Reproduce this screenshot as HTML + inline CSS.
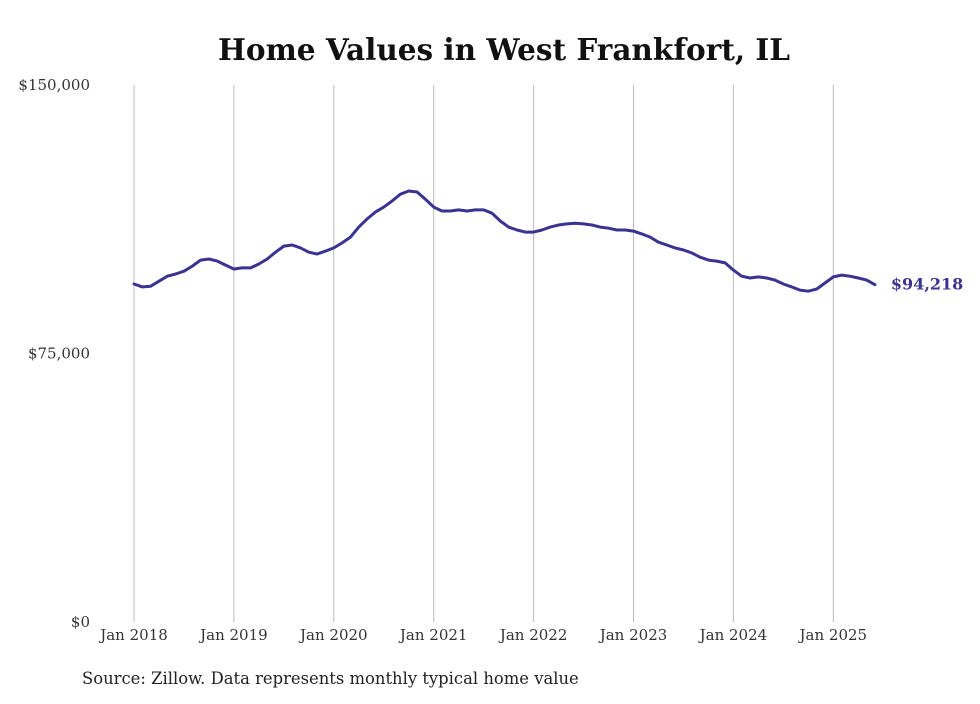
<!DOCTYPE html>
<html><head><meta charset="utf-8"><style>
html,body{margin:0;padding:0;background:#fff;}
svg text{font-family:"DejaVu Serif","Liberation Serif",serif;}
</style></head><body>
<svg width="980" height="699" viewBox="0 0 980 699">
<text x="504" y="60" text-anchor="middle" font-size="29.5" font-weight="bold" fill="#111">Home Values in West Frankfort, IL</text>
<g id="grid"></g><g id="yaxis"></g><g id="xaxis"></g><g id="series"></g>
<text x="82" y="684" font-size="16.4" fill="#222">Source: Zillow. Data represents monthly typical home value</text>
</svg>
<script>
const yTickValues=[0,75000,150000];
const yTickLabels=["$0","$75,000","$150,000"];
const xTickYears=[2018,2019,2020,2021,2022,2023,2024,2025];
const xTickLabels=["Jan 2018","Jan 2019","Jan 2020","Jan 2021","Jan 2022","Jan 2023","Jan 2024","Jan 2025"];
const startYear=2018;
const values=[94.4,93.6,93.8,95.2,96.6,97.2,98.0,99.4,101.1,101.4,100.8,99.7,
98.6,98.9,98.9,100,101.4,103.3,105,105.3,104.5,103.3,102.8,103.6,
104.5,105.9,107.5,110.3,112.6,114.5,115.9,117.6,119.5,120.4,120.1,118.1,
115.9,114.8,114.8,115.1,114.8,115.1,115.1,114.2,112,110.3,109.5,108.9,
108.9,109.5,110.3,110.9,111.2,111.4,111.2,110.9,110.3,110,109.5,109.5,
109.2,108.4,107.5,106.1,105.3,104.5,103.9,103.1,101.9,101.1,100.8,100.3,
98.3,96.6,96.1,96.4,96.1,95.5,94.4,93.6,92.7,92.4,93,94.7,
96.4,96.9,96.6,96.1,95.5,94.218].map(v=>v*1000);
const lastLabel="$94,218";
const NS="http://www.w3.org/2000/svg";
const y0=622,y1=85,x0=134,yearW=99.9;
const ys=v=>y0-(v/150000)*(y0-y1);
const xs=m=>x0+m*yearW/12;
function mk(t,a,p){const e=document.createElementNS(NS,t);for(const k in a)e.setAttribute(k,a[k]);p.appendChild(e);return e;}
const grid=document.getElementById('grid'),ya=document.getElementById('yaxis'),xa=document.getElementById('xaxis'),se=document.getElementById('series');
xTickYears.forEach((yr,i)=>{const x=xs((yr-startYear)*12);
const l=mk('line',{x1:x,x2:x,y1:y1,y2:y0,stroke:'#bbb','stroke-width':1},grid);


const t=mk('text',{x:x,y:640,'text-anchor':'middle','font-size':15,fill:'#333'},xa);t.textContent=xTickLabels[i];

});
yTickValues.forEach((v,i)=>{const t=mk('text',{x:90,y:ys(v)+5,'text-anchor':'end','font-size':15,fill:'#333'},ya);t.textContent=yTickLabels[i];

});
const d=values.map((v,i)=>(i?'L':'M')+xs(i).toFixed(1)+','+ys(v).toFixed(1)).join(' ');
const p=mk('path',{d:d,fill:'none',stroke:'#3a3391','stroke-width':3,'stroke-linejoin':'round','stroke-linecap':'round'},se);


const n=values.length-1;
const lt=mk('text',{x:xs(n)+16,y:ys(values[n])+5,'font-size':16,'font-weight':'bold',fill:'#3a3391'},se);lt.textContent=lastLabel;


</script>
</body></html>
